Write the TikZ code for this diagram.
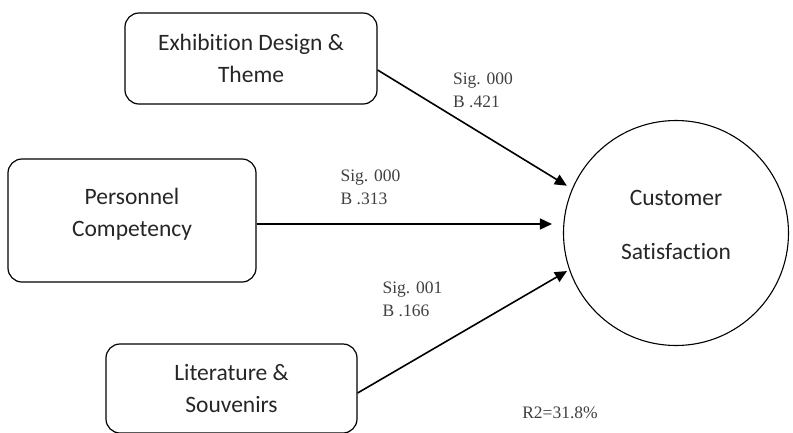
\documentclass[tikz,border=0pt]{standalone}
\usepackage{fontspec}
\setmainfont{Liberation Serif}
\newfontfamily\boxfont[Ligatures=NoCommon]{Carlito}
\usetikzlibrary{arrows.meta}

\begin{document}
\begin{tikzpicture}[x=1pt,y=-1pt,>={Triangle[length=12pt,width=11pt]},
	box/.style={draw,rounded corners=14pt,line width=1.2pt,align=center,font=\boxfont\fontsize{23.5}{32.5}\selectfont,text=black!85},
	lbl/.style={align=left,inner sep=0pt,font=\fontsize{17.5}{23}\selectfont,text=black!75},
	link/.style={->,line width=1.6pt}]
	\useasboundingbox (0,0) rectangle (793,432);
	\node[box,minimum width=252pt,minimum height=91pt] 	(ed) at (251,58.5) {Exhibition Design \&\\Theme};
	\node[box,minimum width=248pt,minimum height=123pt,text depth=16pt] 	(pc) at (132,220.5) {Personnel\\Competency};
	\node[box,minimum width=251pt,minimum height=89pt] 	(ls) at (231.5,388.5) {Literature \&\\Souvenirs};
	\node[draw,circle,minimum size=225pt,line width=1.1pt,align=center,text depth=16pt,
		font=\boxfont\fontsize{23.5}{54}\selectfont,text=black!85] 	(cs) at (676,233) {Customer\\Satisfaction};
	\node[lbl] (s1) at (483,90) {Sig. 000\\B .421};
	\node[lbl] (s2) at (370.5,187) {Sig. 000\\B .313};
	\node[lbl] (s3) at (412.5,299) {Sig. 001\\B .166};
	\node[lbl] (r2) at (560,413) {R2=31.8\%};
	\path[link]
	([yshift=-11.5pt]ed.east) edge [shorten >=6pt] (cs.157)
	([yshift=-3.5pt]pc.east) edge [shorten >=11pt] ([yshift=-3.5pt]pc.east -| cs.west)
	([yshift=-4.5pt]ls.east) edge [shorten >=2.5pt] (cs.199);
\end{tikzpicture}
\end{document}
